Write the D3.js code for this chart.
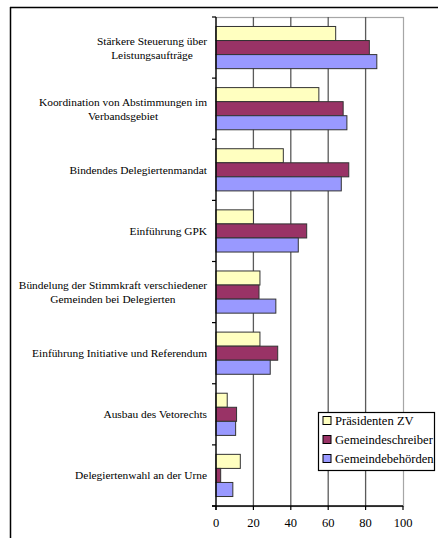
<!DOCTYPE html>
<html><head><meta charset="utf-8">
<script src="https://cdn.jsdelivr.net/npm/d3@7"></script>
<style>body{margin:0;background:#fff}svg{display:block}</style>
</head><body>
<script>
const categories = [
  ["Stärkere Steuerung über","Leistungsaufträge"],
  ["Koordination von Abstimmungen im","Verbandsgebiet"],
  ["Bindendes Delegiertenmandat"],
  ["Einführung GPK"],
  ["Bündelung der Stimmkraft verschiedener","Gemeinden bei Delegierten"],
  ["Einführung Initiative und Referendum"],
  ["Ausbau des Vetorechts"],
  ["Delegiertenwahl an der Urne"]
];
const seriesNames = ["Präsidenten ZV","Gemeindeschreiber","Gemeindebehörden"];
const praesidenten = [64, 55, 36, 20, 23.5, 23.5, 6, 13];
const schreiber = [82, 68, 71, 48.5, 23, 33, 11, 2.5];
const behoerden = [86, 70, 67, 44, 32, 29, 10.5, 9];
const xTicks = [0, 20, 40, 60, 80, 100];
const colors = ["#FFFFC0", "#993366", "#9999FF"];
const seriesValues = [praesidenten, schreiber, behoerden];

(function(){
const W = 438, H = 538;
const FONT = "'Liberation Serif', 'Times New Roman', 'DejaVu Serif', serif";
const svg = d3.select("body").append("svg").attr("width", W).attr("height", H)
  .attr("font-family", FONT);
const pL = 216, pR = 403, pT = 17, pB = 506;

// outer frame
svg.append("line").attr("x1",10).attr("x2",W).attr("y1",7.5).attr("y2",7.5).attr("stroke","#000").attr("stroke-width",1.5);
svg.append("line").attr("x1",10.5).attr("x2",10.5).attr("y1",7).attr("y2",H).attr("stroke","#000").attr("stroke-width",1.5);

const x = d3.scaleLinear().domain([0,100]).range([pL,pR]);
const idx = categories.map((d,i)=>i);
const y = d3.scaleBand().domain(idx).range([pT,pB]).paddingInner(0.31).paddingOuter(0.155);
const y1 = d3.scaleBand().domain([0,1,2]).range([0,y.bandwidth()]);

// plot border (top/right)
svg.append("rect").attr("x",pL).attr("y",pT+0.5).attr("width",pR-pL+0.5).attr("height",pB-pT)
  .attr("fill","none").attr("stroke","#a6a6a6").attr("stroke-width",1.2);

// grid
svg.append("g").selectAll("line").data(xTicks.filter(t=>t>0 && t<100)).join("line")
  .attr("x1",d=>x(d)).attr("x2",d=>x(d)).attr("y1",pT).attr("y2",pB)
  .attr("stroke","#5a5a5a").attr("stroke-width",1.3);

// bars
const g = svg.append("g");
seriesValues.forEach((vals,s)=>{
  g.selectAll(null).data(vals).join("rect")
    .attr("x",pL)
    .attr("y",(d,i)=>y(i)+y1(s))
    .attr("width",d=>x(d)-pL)
    .attr("height",y1.bandwidth())
    .attr("fill",colors[s]).attr("stroke","#333").attr("stroke-width",1);
});

// y axis line + ticks at category boundaries
svg.append("line").attr("x1",pL).attr("x2",pL).attr("y1",pT).attr("y2",pB+4).attr("stroke","#000").attr("stroke-width",1.3);
const step = y.step();
svg.append("g").selectAll("line").data(d3.range(categories.length+1)).join("line")
  .attr("x1",pL-4).attr("x2",pL).attr("y1",d=>pT+d*step).attr("y2",d=>pT+d*step)
  .attr("stroke","#000").attr("stroke-width",1.2);

// x axis
svg.append("line").attr("x1",pL-4).attr("x2",pR).attr("y1",pB).attr("y2",pB).attr("stroke","#000").attr("stroke-width",1.3);
svg.append("g").selectAll("line").data(xTicks).join("line")
  .attr("x1",d=>x(d)).attr("x2",d=>x(d)).attr("y1",pB).attr("y2",pB+4)
  .attr("stroke","#000").attr("stroke-width",1.2);
svg.append("g").selectAll("text").data(xTicks).join("text")
  .attr("x",d=>x(d)).attr("y",pB+21).attr("text-anchor","middle").attr("font-size",12.5).text(d=>d);

// category labels
const lab = svg.append("g");
const labelRight = 207;
categories.forEach((lines,i)=>{
  const cy = y(i)+y.bandwidth()/2;
  const lh = 14;
  const t = lab.append("text").attr("text-anchor","middle").attr("font-size",11.4);
  const spans = lines.map((ln,j)=>t.append("tspan").attr("y", cy + 4 + (j-(lines.length-1)/2)*lh).text(ln));
  const maxW = d3.max(spans, s=>s.node().getComputedTextLength());
  spans.forEach(s=>s.attr("x", labelRight - maxW/2));
});

// legend
const lg = svg.append("g").attr("transform","translate(318,412)");
lg.append("rect").attr("x",0.5).attr("y",0.5).attr("width",116).attr("height",58).attr("fill","#fff").attr("stroke","#000").attr("stroke-width",1.2);
seriesNames.forEach((n,i)=>{
  lg.append("rect").attr("x",5).attr("y",9+i*19-4.5).attr("width",8).attr("height",8)
    .attr("fill",colors[i]).attr("stroke","#000").attr("stroke-width",1);
  lg.append("text").attr("x",17).attr("y",9+i*19+4).attr("font-size",12.6).text(n);
});
})();
</script>
</body></html>
